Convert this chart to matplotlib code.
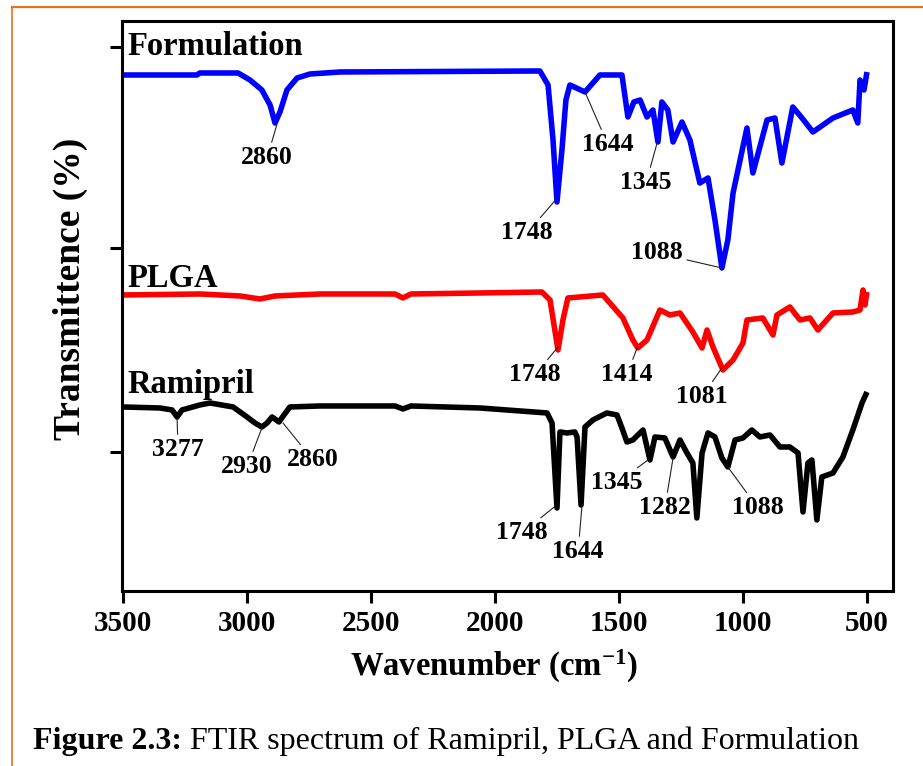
"""
FTIR spectra of Ramipril, PLGA and Formulation (stacked, offset traces)
"""

import matplotlib
matplotlib.use('Agg')
import matplotlib.pyplot as plt
from matplotlib.lines import Line2D

# ---- data (wavenumber in cm-1, offset transmittance in arbitrary units) ----
form_wn = [3500, 3202, 3190, 3036, 2988, 2940, 2907, 2887, 2867, 2839, 2798, 2746,
           2625, 1819, 1786, 1766, 1750, 1730, 1714, 1698, 1637, 1577, 1488, 1464,
           1440, 1415, 1387, 1363, 1343, 1327, 1303, 1282, 1246, 1214, 1174, 1141,
           1113, 1085, 1061, 1040, 984, 960, 903, 871, 843, 799, 762, 718, 637,
           557, 537, 528, 512, 500]
form_t = [516, 516, 518, 518, 511, 501, 486, 468, 479, 501, 513, 517,
          519, 520, 506, 451, 389, 441, 491, 506, 499, 516, 516, 474,
          489, 491, 474, 481, 449, 489, 481, 449, 469, 451, 408, 413,
          371, 323, 351, 398, 463, 418, 471, 473, 428, 484, 473, 459, 473,
          481, 468, 511, 501, 519]

plga_wn = [3500, 3190, 3028, 2948, 2887, 2706, 2403, 2371, 2339, 2061, 1811, 1778,
           1746, 1726, 1706, 1565, 1484, 1444, 1424, 1387, 1335, 1295, 1254, 1202,
           1165, 1145, 1121, 1081, 1040, 1000, 984, 920, 879, 863, 811, 770, 730,
           698, 637, 557, 528, 516, 508, 500]
plga_t = [296, 297, 295, 292, 295, 297, 297, 293, 297, 298, 299, 291,
          241, 271, 293, 296, 273, 251, 243, 251, 281, 276, 278, 259,
          243, 261, 244, 221, 231, 248, 271, 273, 256, 276, 284, 271, 273,
          261, 278, 279, 281, 301, 286, 299]

rami_wn = [3500, 3351, 3302, 3282, 3262, 3190, 3149, 3056, 3000, 2968, 2940, 2919,
           2899, 2871, 2851, 2827, 2706, 2403, 2371, 2339, 2061, 1790, 1770, 1750,
           1738, 1710, 1678, 1669, 1653, 1637, 1605, 1549, 1508, 1488, 1468, 1444,
           1403, 1375, 1355, 1315, 1282, 1254, 1226, 1202, 1186, 1165, 1141, 1113,
           1085, 1061, 1032, 1000, 964, 932, 891, 851, 811, 778, 758, 738, 722,
           702, 682, 637, 597, 557, 520, 500]
rami_t = [184, 183, 181, 174, 181, 186, 188, 184, 174, 168, 164, 168,
          174, 169, 176, 184, 185, 185, 182, 185, 183, 178, 168, 83,
          159, 158, 159, 154, 86, 164, 171, 178, 176, 163, 149, 151,
          161, 131, 154, 153, 134, 151, 138, 128, 73, 138, 158, 154,
          133, 124, 151, 153, 161, 154, 156, 144, 144, 138, 79, 128, 131,
          71, 114, 118, 134, 161, 188, 199]

series_names = ['Formulation', 'PLGA', 'Ramipril']
series_label_y = [536, 304, 198]

# peak labels: (text, peak wavenumber, peak T, text wavenumber, text T)
form_peaks = [('2860', 2880, 466, 2919, 433), ('1748', 1752, 392, 1871, 358),
              ('1644', 1637, 499, 1544, 446), ('1345', 1343, 451, 1391, 408),
              ('1088', 1085, 323, 1347, 338)]
plga_peaks = [('1748', 1746, 244, 1839, 216), ('1414', 1424, 245, 1468, 216),
              ('1081', 1085, 223, 1166, 194)]
rami_peaks = [('3277', 3282, 173, 3278, 141), ('2930', 2940, 163, 3000, 124),
              ('2860', 2855, 168, 2734, 131), ('1748', 1756, 85, 1891, 58),
              ('1644', 1649, 86, 1665, 39), ('1345', 1383, 131, 1508, 108),
              ('1282', 1282, 133, 1315, 83), ('1088', 1061, 124, 940, 83)]

x_ticks = [3500, 3000, 2500, 2000, 1500, 1000, 500]
y_ticks = [139, 343, 544]

# ---- style ----
serif = ['Liberation Serif', 'DejaVu Serif']
plt.rcParams['font.family'] = serif
plt.rcParams['font.weight'] = 'bold'
plt.rcParams['mathtext.fontset'] = 'custom'
plt.rcParams['mathtext.rm'] = 'Liberation Serif:bold'
plt.rcParams['mathtext.it'] = 'Liberation Serif:bold'
plt.rcParams['mathtext.bf'] = 'Liberation Serif:bold'

fig = plt.figure(figsize=(9.23, 7.66), dpi=100)
ax = fig.add_axes([0.1322, 0.2285, 0.8353, 0.7441])

lw = 4.0
for wn, t, c in ((form_wn, form_t, '#0000FF'), (plga_wn, plga_t, '#FF0000'),
                 (rami_wn, rami_t, 'black')):
    ax.plot(wn, t, color=c, linewidth=lw, solid_joinstyle='round',
            solid_capstyle='butt')

for name, ly in zip(series_names, series_label_y):
    ax.text(3482, ly, name, fontsize=23.5, fontweight='bold', va='baseline', ha='left')

for peaks in (form_peaks, plga_peaks, rami_peaks):
    for txt, px, pt, tx, tt in peaks:
        ax.annotate(txt, xy=(px, pt), xytext=(tx, tt), textcoords='data',
                    fontsize=18.5, fontweight='bold', ha='center', va='center',
                    arrowprops=dict(arrowstyle='-', color='#222222', lw=0.8,
                                    shrinkA=1, shrinkB=0))

ax.set_xlim(3504, 395)
ax.set_ylim(0, 570)
ax.set_xticks(x_ticks)
ax.set_xticklabels([str(t) for t in x_ticks])
ax.set_yticks(y_ticks)
ax.set_yticklabels([])

for sp in ax.spines.values():
    sp.set_linewidth(2.2)
ax.tick_params(axis='both', direction='out', length=8.5, width=2.2,
               labelsize=21, pad=5)
for lab in ax.get_xticklabels():
    lab.set_fontweight('bold')

ax.set_xlabel('Wavenumber (cm$^{-1}$)', fontsize=23.5, fontweight='bold')
ax.xaxis.set_label_coords(0.4825, -0.10)
ax.set_ylabel('Transmittence (%)', fontsize=27, fontweight='bold')
ax.yaxis.set_label_coords(-0.044, 0.53)

# orange page frame (top and left)
orange = '#E2731E'
fig.add_artist(Line2D([12 / 923, 1.0], [1 - 7 / 766, 1 - 7 / 766],
                      transform=fig.transFigure, color=orange, lw=1.6))
fig.add_artist(Line2D([12 / 923, 12 / 923], [0.0, 1 - 7 / 766],
                      transform=fig.transFigure, color=orange, lw=1.2))

# caption: bold prefix + regular text
cap_bold = fig.text(33 / 923, 17 / 766, 'Figure 2.3:', fontsize=23,
                    fontweight='bold', va='baseline', ha='left')
ax.annotate(' FTIR spectrum of Ramipril, PLGA and Formulation', xy=(1, 0),
            xycoords=cap_bold, va='bottom', ha='left', fontsize=23,
            fontweight='normal', annotation_clip=False)

fig.savefig('out.png', dpi=100)
plt.close(fig)
